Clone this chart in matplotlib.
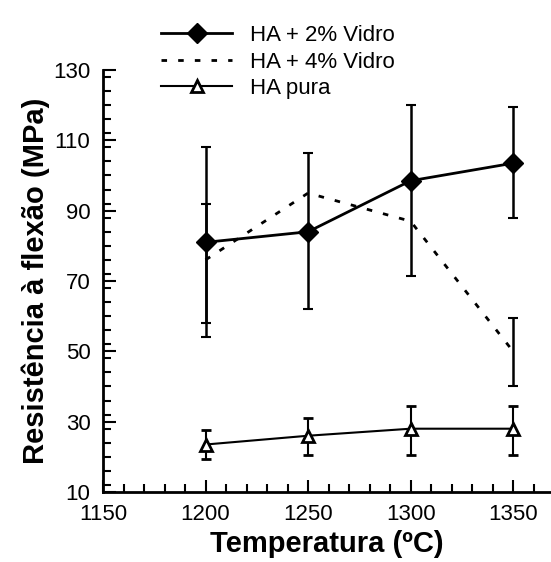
import numpy as np
import matplotlib.pyplot as plt
from matplotlib.lines import Line2D
from matplotlib.ticker import MultipleLocator

plt.rcParams['font.family'] = ['Liberation Sans', 'DejaVu Sans']

temps = [1200, 1250, 1300, 1350]

# HA + 2% Vidro
v2 = [81, 84, 98.5, 103.5]
v2_lo = [54, 62, 71.5, 88]
v2_hi = [108, 106.5, 120, 119.5]

# HA + 4% Vidro
v4 = [76, 95, 87, 50]
v4_err_x = [1200, 1350]
v4_err_y = [76, 50]
v4_lo = [58, 40]
v4_hi = [92, 59.5]

# HA pura
pura = [23.5, 26, 28, 28]
pura_lo = [19.5, 20.5, 20.5, 20.5]
pura_hi = [27.5, 31, 34.5, 34.5]

fig = plt.figure(figsize=(5.51, 5.62), dpi=100)
ax = fig.add_axes([103/551, 70/562, 447/551, 422/562])

err2 = [np.subtract(v2, v2_lo), np.subtract(v2_hi, v2)]
ax.errorbar(temps, v2, yerr=err2, color='black', lw=2, marker='D', ms=10,
            capsize=3.5, elinewidth=1.8, capthick=1.5, zorder=3)

dots = (0, (2, 4))
ax.plot(temps, v4, color='black', lw=2, linestyle=dots)
err4 = [np.subtract(v4_err_y, v4_lo), np.subtract(v4_hi, v4_err_y)]
ax.errorbar(v4_err_x, v4_err_y, yerr=err4, fmt='none', ecolor='black',
            elinewidth=1.8, capsize=3.5, capthick=1.5)

errp = [np.subtract(pura, pura_lo), np.subtract(pura_hi, pura)]
ax.errorbar(temps, pura, yerr=errp, color='black', lw=1.5, marker='^', ms=9,
            mfc='white', mec='black', mew=2, capsize=3.5, elinewidth=1.5,
            capthick=1.5, zorder=3)

ax.set_xlim(1150, 1368)
ax.set_ylim(10, 130)
ax.set_xticks([1150, 1200, 1250, 1300, 1350])
ax.set_yticks([10, 30, 50, 70, 90, 110, 130])
ax.xaxis.set_minor_locator(MultipleLocator(10))
ax.yaxis.set_minor_locator(MultipleLocator(4))
ax.tick_params(which='both', direction='in', width=1.5, labelsize=16)
ax.tick_params(which='major', length=9)
ax.tick_params(which='minor', length=6)
ax.tick_params(axis='x', pad=9)
ax.tick_params(axis='y', pad=9)
ax.spines['top'].set_visible(False)
ax.spines['right'].set_visible(False)
ax.spines['left'].set_linewidth(2)
ax.spines['bottom'].set_linewidth(2)

ax.set_xlabel('Temperatura (ºC)', fontsize=21, fontweight='bold', labelpad=3)
ax.set_ylabel('Resistência à flexão (MPa)', fontsize=21, fontweight='bold', labelpad=2)

handles = [
    Line2D([], [], color='black', lw=2, marker='D', ms=10),
    Line2D([], [], color='black', lw=2, linestyle=dots),
    Line2D([], [], color='black', lw=1.5, marker='^', ms=9, mfc='white', mew=2),
]
labels = ['HA + 2% Vidro', 'HA + 4% Vidro', 'HA pura']
fig.legend(handles, labels, loc='upper left', bbox_to_anchor=(150/551, 1 - 14/562),
           frameon=False, fontsize=16, handlelength=3.2, handletextpad=0.8,
           labelspacing=0.25, borderpad=0)

fig.savefig('out.png', dpi=100)
